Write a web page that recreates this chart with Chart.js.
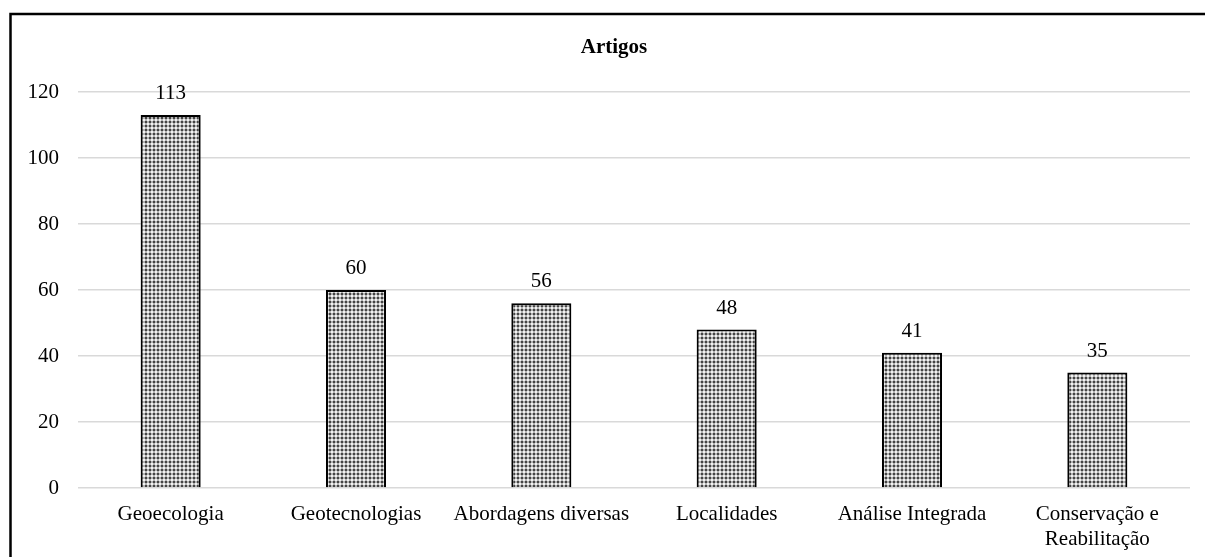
<!DOCTYPE html>
<html>
<head>
<meta charset="utf-8">
<title>Artigos</title>
<script src="https://cdn.jsdelivr.net/npm/chart.js@4.4.1/dist/chart.umd.min.js"></script>
<style>
html,body{margin:0;padding:0;background:#fff;}
#wrap{width:1205px;height:557px;}
</style>
</head>
<body>
<div id="wrap"><canvas id="c" width="1205" height="557"></canvas></div>
<script>
// dados do gráfico
const chartTitle='Artigos';
const categories=['Geoecologia','Geotecnologias','Abordagens diversas','Localidades','Análise Integrada',['Conservação e','Reabilitação']];
const values=[113,60,56,48,41,35];
const yTicks={min:0,max:120,step:20};

const FONT='"Liberation Serif","Times New Roman",Times,serif';

// padrão pontilhado das barras
function dotPattern(){
  const p=document.createElement('canvas');p.width=4;p.height=4;
  const g=p.getContext('2d');
  g.fillStyle='#f2f2f2';g.fillRect(0,0,4,4);
  g.fillStyle='#b4b4b4';g.fillRect(1,0,2,1);g.fillRect(0,1,1,2);g.fillRect(3,1,1,2);g.fillRect(1,3,2,1);
  g.fillStyle='#444';g.fillRect(1,1,2,2);
  return g.createPattern(p,'repeat');
}

const framePlugin={
  id:'frame',
  beforeDraw:function(chart){
    const ctx=chart.ctx;
    ctx.save();
    ctx.strokeStyle='#000';ctx.lineWidth=2.5;
    ctx.beginPath();
    ctx.moveTo(10.5,557);ctx.lineTo(10.5,14);ctx.lineTo(1205,14);
    ctx.stroke();
    ctx.fillStyle='#000';
    ctx.font='bold 21px '+FONT;
    ctx.textAlign='center';ctx.textBaseline='middle';
    ctx.fillText(chartTitle,614,48);
    ctx.restore();
  }
};

const labelPlugin={
  id:'valLabels',
  afterDatasetsDraw:function(chart){
    const ctx=chart.ctx;
    const meta=chart.getDatasetMeta(0);
    ctx.save();
    ctx.fillStyle='#000';
    ctx.font='21px '+FONT;
    ctx.textAlign='center';ctx.textBaseline='alphabetic';
    meta.data.forEach(function(bar,i){
      ctx.fillText(String(values[i]),bar.x,bar.y-16);
    });
    ctx.restore();
  }
};

new Chart(document.getElementById('c'),{
  type:'bar',
  data:{
    labels:categories,
    datasets:[{
      label:chartTitle,
      data:values,
      backgroundColor:dotPattern(),
      borderColor:'#000',
      borderWidth:2,
      categoryPercentage:1,
      barPercentage:0.324
    }]
  },
  options:{
    responsive:false,
    animation:false,
    events:[],
    layout:{padding:{top:92,right:15,left:0,bottom:0}},
    plugins:{legend:{display:false},title:{display:false},tooltip:{enabled:false}},
    scales:{
      x:{
        grid:{display:false,drawTicks:false},
        border:{display:false},
        ticks:{color:'#000',font:{family:FONT,size:21},padding:14,maxRotation:0,autoSkip:false},
        afterFit:function(s){s.height=557-488;}
      },
      y:{
        min:yTicks.min,max:yTicks.max,
        grid:{color:'#d9d9d9',lineWidth:1.5,drawTicks:false},
        border:{display:false},
        ticks:{stepSize:yTicks.step,color:'#000',font:{family:FONT,size:21},padding:19},
        afterFit:function(s){s.width=78;}
      }
    }
  },
  plugins:[framePlugin,labelPlugin]
});
</script>
</body>
</html>
